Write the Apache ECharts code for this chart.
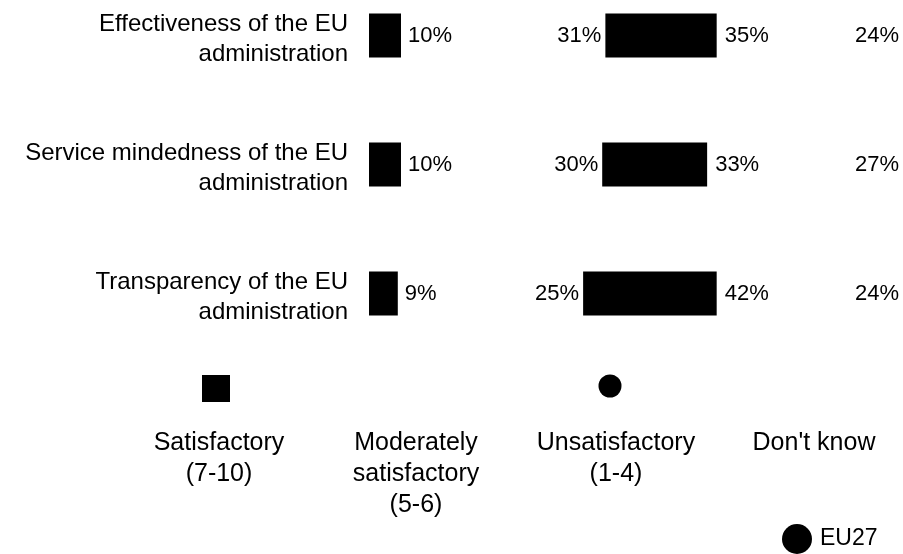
<!DOCTYPE html>
<html>
<head>
<meta charset="utf-8">
<script src="https://cdn.jsdelivr.net/npm/echarts@6/dist/echarts.min.js"></script>
<style>
  html, body { margin: 0; padding: 0; background: #fff; }
  #chart { width: 903px; height: 554px; }
</style>
</head>
<body>
<div id="chart"></div>
<script>
const categories = [
  "Effectiveness of the EU\nadministration",
  "Service mindedness of the EU\nadministration",
  "Transparency of the EU\nadministration"
];
const satisfactory = [10, 10, 9];
const moderately = [31, 30, 25];
const unsatisfactory = [35, 33, 42];
const dontKnow = [24, 27, 24];
const legendLabels = [
  "Satisfactory\n(7-10)",
  "Moderately\nsatisfactory\n(5-6)",
  "Unsatisfactory\n(1-4)",
  "Don't know"
];
const footLabel = "EU27";

const FONT = '"Liberation Sans", Arial, sans-serif';
const pct = p => p.value + '%';

const chart = echarts.init(document.getElementById('chart'), null, { renderer: 'canvas' });

const labelBase = { show: true, formatter: pct, color: '#000', fontSize: 22, fontFamily: FONT };

const option = {
  backgroundColor: '#ffffff',
  animation: false,
  textStyle: { fontFamily: FONT },
  grid: [
    { left: 369, top: -29, width: 320, height: 387, containLabel: false, outerBoundsMode: 'none' },
    { left: 475, top: -29, width: 318, height: 387, containLabel: false, outerBoundsMode: 'none' },
    { left: 369, top: -25, width: 320, height: 387, containLabel: false, outerBoundsMode: 'none' }
  ],
  xAxis: [
    { type: 'value', gridIndex: 0, min: 0, max: 100, show: false },
    { type: 'value', gridIndex: 1, min: 0, max: 100, show: false },
    { type: 'value', gridIndex: 2, min: 0, max: 100, show: false }
  ],
  yAxis: [
    { type: 'category', gridIndex: 0, data: categories, inverse: true, show: false },
    { type: 'category', gridIndex: 1, data: categories, inverse: true, show: false },
    {
      type: 'category', gridIndex: 2, data: categories, inverse: true,
      axisLine: { show: false }, axisTick: { show: false }, splitLine: { show: false },
      axisLabel: {
        show: true, margin: 21, color: '#000', fontSize: 24, fontFamily: FONT,
        lineHeight: 30, align: 'right'
      }
    }
  ],
  series: [
    {
      name: 'Satisfactory (7-10)', type: 'bar', xAxisIndex: 0, yAxisIndex: 0,
      data: satisfactory, barWidth: 44, itemStyle: { color: '#000' },
      label: Object.assign({}, labelBase, { position: 'right', distance: 7 })
    },
    {
      name: 'Satisfactory offset', type: 'bar', xAxisIndex: 1, yAxisIndex: 1,
      stack: 'total', data: satisfactory, barWidth: 44, silent: true,
      itemStyle: { color: 'rgba(0,0,0,0)' }, label: { show: false }
    },
    {
      name: 'Moderately satisfactory (5-6)', type: 'bar', xAxisIndex: 1, yAxisIndex: 1,
      stack: 'total', data: moderately, barWidth: 44, itemStyle: { color: 'rgba(0,0,0,0)' },
      label: Object.assign({}, labelBase, { position: 'insideRight', distance: 4 })
    },
    {
      name: 'Unsatisfactory (1-4)', type: 'bar', xAxisIndex: 1, yAxisIndex: 1,
      stack: 'total', data: unsatisfactory, barWidth: 44, itemStyle: { color: '#000' },
      label: Object.assign({}, labelBase, { position: 'right', distance: 8 })
    },
    {
      name: "Don't know", type: 'bar', xAxisIndex: 1, yAxisIndex: 1,
      stack: 'total', data: dontKnow, barWidth: 44, itemStyle: { color: 'rgba(0,0,0,0)' },
      label: Object.assign({}, labelBase, { position: 'right', distance: 62 })
    }
  ],
  graphic: [
    { type: 'rect', shape: { x: 202, y: 375, width: 28, height: 27 }, style: { fill: '#000' } },
    { type: 'circle', shape: { cx: 610, cy: 386, r: 11.5 }, style: { fill: '#000' } },
    { type: 'text', x: 219, y: 428, style: { text: legendLabels[0], fill: '#000', font: '25px ' + FONT, align: 'center', verticalAlign: 'top', lineHeight: 31 } },
    { type: 'text', x: 416, y: 428, style: { text: legendLabels[1], fill: '#000', font: '25px ' + FONT, align: 'center', verticalAlign: 'top', lineHeight: 31 } },
    { type: 'text', x: 616, y: 428, style: { text: legendLabels[2], fill: '#000', font: '25px ' + FONT, align: 'center', verticalAlign: 'top', lineHeight: 31 } },
    { type: 'text', x: 814, y: 428, style: { text: legendLabels[3], fill: '#000', font: '25px ' + FONT, align: 'center', verticalAlign: 'top', lineHeight: 31 } },
    { type: 'circle', shape: { cx: 797, cy: 539, r: 15 }, style: { fill: '#000' } },
    { type: 'text', x: 820, y: 539, style: { text: footLabel, fill: '#000', font: '23px ' + FONT, align: 'left', verticalAlign: 'middle' } }
  ]
};

chart.setOption(option);
</script>
</body>
</html>
